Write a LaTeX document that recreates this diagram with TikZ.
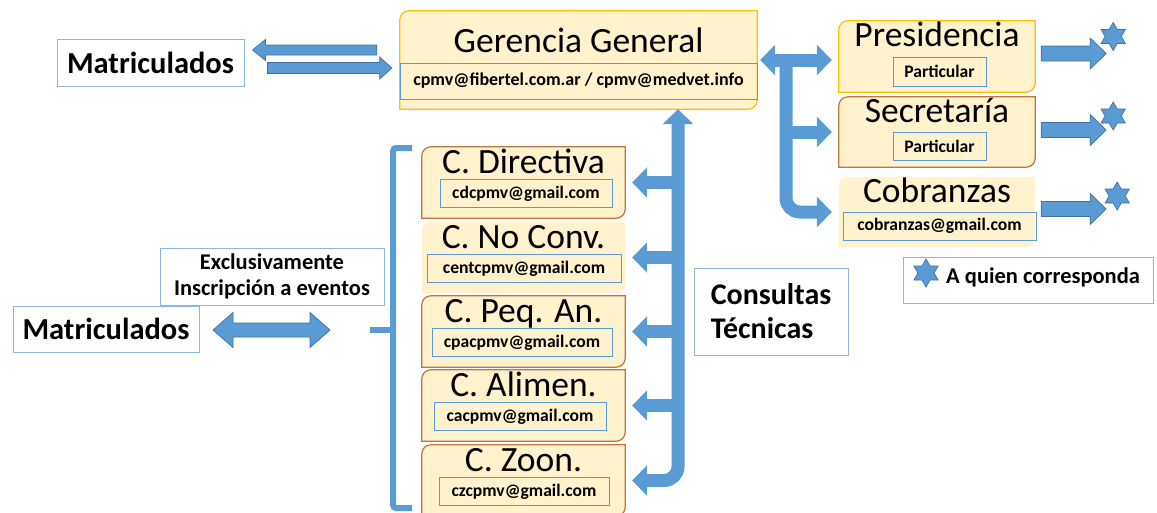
\documentclass[tikz,border=0pt]{standalone}
\usepackage{fontspec}
\setmainfont{Carlito}
\usetikzlibrary{arrows.meta,calc,shapes.geometric}
\definecolor{cream}{HTML}{FFF2CC}
\definecolor{gold}{HTML}{FFC000}
\definecolor{rust}{HTML}{C0743F}
\definecolor{azul}{HTML}{5B9BD5}
\definecolor{azuldark}{HTML}{41719C}
\definecolor{tagline}{HTML}{8DB6E2}
% panel with round top-left and bottom-right corners
\newcommand\diagpanel[2]{%
  \path[fill=cream,draw=#2,line width=1.2pt] (#1.south west) -- ([yshift=-9pt]#1.north west)
    arc[start angle=180,end angle=90,radius=9pt] -- (#1.north east) -- ([yshift=9pt]#1.south east)
    arc[start angle=0,end angle=-90,radius=9pt] -- cycle;}
% block arrow: start, tip, shaft half width, head half width, head length
\newcommand\blkarrow[5]{%
  \path[blk] let \p1=#1, \p2=#2 in (\x1,\y1+#3) -- ({\x2-(#5)},\y1+#3) -- ({\x2-(#5)},\y1+#4)
    -- (\x2,\y1) -- ({\x2-(#5)},\y1-#4) -- ({\x2-(#5)},\y1-#3) -- (\x1,\y1-#3) -- cycle;}
\begin{document}
\begin{tikzpicture}[x=1pt,y=-1pt]
\tikzset{panel/.style={inner sep=0pt},
ttl/.style={font=\fontsize{35.5}{40}\selectfont,anchor=base,inner sep=0pt},
mail/.style={draw=azul,line width=0.8pt,font=\bfseries\fontsize{17.6}{20}\selectfont,inner sep=0pt},
tag/.style={draw=tagline,line width=1pt,fill=white,font=\bfseries,inner sep=0pt,align=center},
conn/.style={azul,line width=13pt,>={Triangle[width=30pt,length=15pt]}},
blk/.style={fill=azul,draw=azuldark,line width=0.7pt},
hexa/.style={star,star points=6,star point ratio=1.73,minimum size=28pt,inner sep=0pt,fill=azul,draw=azuldark,line width=0.7pt},
brace/.style={azul,line width=6pt}}
\useasboundingbox (0,0) rectangle (1157,512);

% gerencia
\node[panel,minimum width=357pt,minimum height=98pt] (ger) at (578.5,60) {};
\diagpanel{ger}{gold}
\node[ttl] at (578.5,52) {Gerencia General};
\node[mail,minimum width=357pt,minimum height=36pt,font=\bfseries\fontsize{18}{20}\selectfont] (ger-mail) at (578.5,81) {cpmv@fibertel.com.ar / cpmv@medvet.info};

% right column
\node[panel,minimum width=196pt,minimum height=71pt] (pres) at (937,56.5) {};
\diagpanel{pres}{gold}
\node[ttl] at (937,46) {Presidencia};
\node[mail,minimum width=93pt,minimum height=29pt] (pres-mail) at (939.5,71.5) {Particular};
\node[panel,minimum width=196pt,minimum height=70pt] (secr) at (937,132) {};
\diagpanel{secr}{rust}
\node[ttl] at (937,122) {Secretaría};
\node[mail,minimum width=93pt,minimum height=28pt] (secr-mail) at (939.5,146) {Particular};
\node[panel,minimum width=196pt,minimum height=70pt] (cobr) at (937,212) {};
\diagpanel{cobr}{none}
\node[ttl] at (937,202) {Cobranzas};
\node[mail,minimum width=193pt,minimum height=28pt] (cobr-mail) at (939.5,226) {cobranzas@gmail.com};

% comisiones
\foreach \nm/\yc/\ttl/\mx/\mw/\ml/\bc in {cdir/182.5/C. Directiva/526/172/cdcpmv@gmail.com/rust,
  cnoc/257.5/C. No Conv./524/194/centcpmv@gmail.com/none,
  cpeq/331.5/C. Peq. An./522/180/cpacpmv@gmail.com/rust,
  cali/405.5/C. Alimen./520/172/cacpmv@gmail.com/rust,
  czoo/480.5/C. Zoon./524/170/czcpmv@gmail.com/rust}{
  \node[panel,minimum width=203pt,minimum height=71pt] (\nm) at (523.5,\yc) {};
  \diagpanel{\nm}{\bc}
  \node[ttl] at (523.5,\yc-9.5) {\ttl};
  \node[mail,minimum width=\mw pt,minimum height=28pt] (\nm-mail) at (\mx,\yc+11) {\ml};
}

% tags
\node[tag,minimum width=187pt,minimum height=47pt,font=\bfseries\fontsize{30.5}{34}\selectfont] (mat1) at (150.5,62.5) {Matriculados};
\node[tag,minimum width=186pt,minimum height=46pt,font=\bfseries\fontsize{30.5}{34}\selectfont] (mat2) at (106,329) {Matriculados};
\node[tag,minimum width=224pt,minimum height=57pt,font=\bfseries\fontsize{22.5}{26}\selectfont] (excl) at (272,276.5) {Exclusivamente\\Inscripción a eventos};
\node[tag,minimum width=154pt,minimum height=87pt,align=left,font=\bfseries\fontsize{30}{34}\selectfont] (cons) at (771,311.5) {Consultas\\Técnicas};
\node[tag,minimum width=250pt,minimum height=46pt] (leg) at (1028,280) {};
\node[hexa] (leg-star) at (926,273) {};
\node[anchor=west,inner sep=0pt,font=\bfseries\fontsize{22.5}{26}\selectfont] (leg-txt) at (946,277) {A quien corresponda};

% matriculados <-> gerencia
\blkarrow{([xshift=-23pt,yshift=10pt]ger.west)}{([xshift=8pt,yshift=10pt]mat1.east)}{5pt}{10.5pt}{-13pt}
\blkarrow{([xshift=23pt,yshift=-5.5pt]mat1.east)}{([xshift=-8pt,yshift=-5.5pt]ger.west)}{5.5pt}{11pt}{12pt}

% gerencia -> right column
\coordinate (rs) at (786,60);
\draw[conn,<->] ([xshift=3pt]ger.east) -- ([xshift=-7pt]pres.west |- ger.east);
\draw[conn,->,rounded corners=14pt] (rs) |- ([xshift=-7pt]cobr.west);
\draw[conn,->] (rs |- secr.west) -- ([xshift=-7pt]secr.west);

% a quien corresponda
\foreach \nm/\dy/\sx/\sy in {pres/3/78/20,secr/2/78/16,cobr/3/82/16}{
  \blkarrow{([xshift=6pt,yshift=\dy pt]\nm.east)}{([xshift=71pt,yshift=\dy pt]\nm.east)}{7.5pt}{15.5pt}{16pt}
  \node[hexa] (\nm-star) at ([xshift=\sx pt,yshift=\sy pt]\nm.east) {};
}

% consultas tecnicas
\coordinate (cs) at (678,0);
\draw[conn,<->,rounded corners=14pt] ([xshift=7pt]czoo.east) -| (ger.south -| cs);
\foreach \b in {cdir,cnoc,cpeq,cali}
  \draw[conn,->] (\b.east -| cs) -- ([xshift=7pt]\b.east);

% llave y matriculados
\draw[brace,rounded corners=3pt] (412,148) -- (393,148) -- (393,508) -- (412,508);
\draw[brace] (393,330) -- (370,330);
\path[blk] (213,330) -- (233,312.5) -- (233,323) -- (310,323) -- (310,312.5) -- (330,330)
  -- (310,347.5) -- (310,337) -- (233,337) -- (233,347.5) -- cycle;
\end{tikzpicture}
\end{document}
